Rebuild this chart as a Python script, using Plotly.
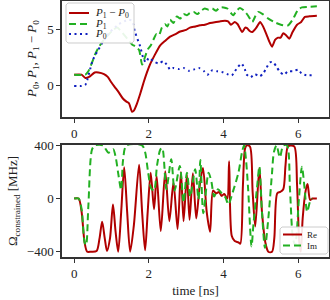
import plotly.graph_objects as go

# ---------------- top panel data ----------------
t_diff = [0, 0.2, 0.3, 0.4, 0.55, 0.65, 0.8, 0.9, 1.0, 1.1, 1.2, 1.3, 1.4, 1.47, 1.55, 1.6, 1.68,
          1.77, 1.86, 1.95, 2.03, 2.15, 2.3, 2.43, 2.57, 2.7, 2.84, 3.0, 3.1, 3.25, 3.37, 3.5, 3.64,
          3.8, 3.9, 4.04, 4.12, 4.2, 4.3, 4.38, 4.5, 4.58, 4.63, 4.7, 4.77, 4.88, 4.98, 5.06, 5.15,
          5.22, 5.3, 5.38, 5.46, 5.53, 5.6, 5.68, 5.76, 5.85, 5.97, 6.08, 6.18, 6.3, 6.5]
p_diff = [1.0, 1.0, 0.7, 0.8, 1.2, 1.2, 1.05, 0.8, 0.3, -0.15, -0.6, -1.1, -1.4, -1.55, -2.3, -2.2, -1.6,
          -0.7, 0.3, 1.2, 1.9, 2.7, 3.6, 4.0, 4.4, 4.6, 4.85, 5.0, 5.2, 5.3, 5.4, 5.45, 5.6,
          5.7, 5.75, 5.8, 5.75, 5.45, 5.7, 5.5, 4.8, 5.2, 5.15, 4.9, 4.8, 5.2, 5.7, 5.3, 4.6,
          4.0, 3.5, 4.1, 4.3, 4.3, 4.7, 4.5, 4.2, 4.8, 5.45, 5.7, 6.15, 6.2, 6.25]

t_p1 = [0, 0.3, 0.38, 0.47, 0.56, 0.65, 0.75, 0.9, 1.05, 1.15, 1.25, 1.35, 1.45, 1.55, 1.65, 1.74,
        1.82, 1.9, 1.98, 2.05, 2.12, 2.2, 2.27, 2.35, 2.43, 2.5, 2.57, 2.66, 2.75, 2.84, 2.93, 3.02,
        3.1, 3.2, 3.3, 3.4, 3.5, 3.6, 3.7, 3.8, 3.9, 4.0, 4.1, 4.2, 4.26, 4.35, 4.44, 4.55, 4.65,
        4.77, 4.85, 4.93, 5.05, 5.2, 5.35, 5.5, 5.6, 5.73, 5.85, 6.0, 6.1, 6.25, 6.5]
p1 = [1.0, 1.0, 1.3, 2.0, 2.8, 3.4, 3.9, 4.5, 5.0, 5.2, 4.9, 4.5, 4.1, 3.7, 3.5, 3.2,
      1.9, 2.6, 3.3, 3.6, 4.1, 4.6, 4.5, 5.2, 5.5, 5.3, 5.9, 5.6, 6.2, 6.0, 6.4, 6.3,
      6.5, 6.6, 6.4, 6.7, 6.9, 6.8, 6.9, 6.7, 7.0, 7.0, 6.9, 6.5, 6.3, 6.7, 6.95, 6.7, 6.3,
      5.7, 6.2, 6.6, 6.4, 6.0, 5.7, 5.5, 5.4, 5.4, 5.9, 6.8, 7.0, 7.05, 7.1]

t_p0 = [0, 0.2, 0.3, 0.5, 0.75, 0.96, 1.2, 1.45, 1.55, 1.63, 1.77, 1.85, 1.92, 2.0, 2.12, 2.26,
        2.39, 2.48, 2.57, 2.66, 2.8, 2.93, 3.07, 3.2, 3.34, 3.48, 3.57, 3.7, 3.84, 3.95, 4.09,
        4.22, 4.3, 4.39, 4.48, 4.57, 4.61, 4.72, 4.84, 4.97, 5.06, 5.15, 5.24, 5.33, 5.42, 5.5,
        5.61, 5.73, 5.86, 6.0, 6.09, 6.22, 6.38]
p0 = [0, 0, 0.1, 2.3, 3.8, 4.8, 5.5, 5.9, 5.8, 4.8, 3.5, 2.5, 2.1, 2.5, 2.2, 2.0,
      2.2, 1.9, 1.45, 1.6, 1.5, 1.6, 1.35, 1.45, 1.6, 1.3, 1.0, 1.4, 1.3, 1.25, 1.07,
      0.93, 1.28, 1.7, 2.0, 1.5, 1.05, 0.77, 1.05, 0.85, 1.1, 1.6, 2.1, 2.1, 1.7, 1.3,
      1.0, 1.3, 1.3, 1.45, 1.1, 0.95, 0.95]

# ---------------- bottom panel data ----------------
t_re = [0, 0.12, 0.2, 0.28, 0.35, 0.45, 0.6, 0.68, 0.75, 0.82, 0.88, 0.96, 1.04, 1.11, 1.18, 1.26,
        1.34, 1.42, 1.5, 1.6, 1.74, 1.82, 1.9, 1.97, 2.05, 2.14, 2.21, 2.32, 2.44, 2.55, 2.66,
        2.77, 2.86, 2.93, 3.02, 3.09, 3.18, 3.27, 3.36, 3.45, 3.55, 3.64, 3.72, 3.8, 3.88, 3.95,
        4.02, 4.1, 4.15, 4.22, 4.3, 4.4, 4.45, 4.52, 4.58, 4.63, 4.71, 4.78, 4.85, 4.96, 5.03,
        5.12, 5.2, 5.3, 5.36, 5.44, 5.52, 5.6, 5.66, 5.72, 5.8, 5.9, 5.97, 6.03, 6.07, 6.12,
        6.2, 6.25, 6.32, 6.38, 6.5]
re = [0, 0, -100, -330, -400, -400, -395, -300, -175, -300, -395, -300, -45, -250, -400, -100,
      235, -100, -400, -200, 255, -100, -390, -100, 195, -80, 170, -245, 205, -170, 120,
      -230, 200, -170, 180, -160, 190, -150, 90, 230, -100, -250, 60, 40, 50, 20,
      35, 0, 280, -280, -320, -330, -340, 100, 380, 400, 390, 50, -210, 230, -100,
      -330, -400, -400, -300, 40, 50, 70, 250, 390, 400, 390, 100, -330, -400, -150,
      60, 110, -10, 0, 0]

t_im = [0, 0.12, 0.2, 0.28, 0.32, 0.38, 0.48, 0.56, 0.78, 0.85, 0.92, 1.0, 1.05, 1.12, 1.18, 1.26,
        1.31, 1.4, 1.82, 1.9, 1.98, 2.06, 2.14, 2.22, 2.31, 2.36, 2.47, 2.6, 2.69, 2.83, 2.93,
        3.02, 3.11, 3.24, 3.33, 3.38, 3.46, 3.6, 3.68, 3.75, 3.85, 3.95, 4.05, 4.13, 4.25, 4.4,
        4.5, 4.55, 4.6, 4.66, 4.75, 4.8, 4.9, 4.96, 5.03, 5.11, 5.2, 5.3, 5.35, 5.42, 5.51, 5.6,
        5.7, 5.78, 5.86, 5.92, 6.02, 6.1, 6.17, 6.24, 6.32, 6.37]
im = [0, 0, -80, -330, -350, -60, 370, 400, 400, 370, 345, 360, 370, 300, 190, 65,
      290, 400, 400, 350, 200, 80, 60, 250, 370, 380, 70, 295, 60, 245, -30,
      195, 15, 220, -5, 290, -110, 195, 120, 15, 70, 40, 10, -45, 50, 195,
      355, 400, 300, 70, -360, -200, 90, 240, -100, -370, -150, 195, 350, 400, 310, 400,
      400, 70, -300, -350, 0, 240, 80, -100, -20, 0]

top_names = ["<i>P</i><sub>1</sub> − <i>P</i><sub>0</sub>", "<i>P</i><sub>1</sub>", "<i>P</i><sub>0</sub>"]
bottom_names = ["Re", "Im"]
top_ylabel = "<i>P</i><sub>0</sub>, <i>P</i><sub>1</sub>, <i>P</i><sub>1</sub> − <i>P</i><sub>0</sub>"

RED = "#b00000"
GREEN = "#22b022"
BLUE = "#1020c0"
DASH = "7px,4px"
DOT = "2px,3.5px"
FONT = "Liberation Serif, DejaVu Serif, serif"

XR = [-0.325, 6.825]
YR1 = [-2.77, 7.57]
YR2 = [-440, 403]

fig = go.Figure()
fig.add_trace(go.Scatter(x=t_diff, y=p_diff, mode="lines", name=top_names[0],
                         line=dict(color=RED, width=2, shape="spline", smoothing=0.6),
                         xaxis="x", yaxis="y"))
fig.add_trace(go.Scatter(x=t_p1, y=p1, mode="lines", name=top_names[1],
                         line=dict(color=GREEN, width=2, dash=DASH, shape="spline", smoothing=0.6),
                         xaxis="x", yaxis="y"))
fig.add_trace(go.Scatter(x=t_p0, y=p0, mode="lines", name=top_names[2],
                         line=dict(color=BLUE, width=2, dash=DOT, shape="spline", smoothing=0.6),
                         xaxis="x", yaxis="y"))
fig.add_trace(go.Scatter(x=t_re, y=re, mode="lines", name=bottom_names[0],
                         line=dict(color=RED, width=2, shape="spline", smoothing=0.8),
                         xaxis="x2", yaxis="y2"))
fig.add_trace(go.Scatter(x=t_im, y=im, mode="lines", name=bottom_names[1],
                         line=dict(color=GREEN, width=2, dash=DASH, shape="spline", smoothing=0.8),
                         xaxis="x2", yaxis="y2"))

# ---- compact matplotlib-style legends, drawn on top of the data ----
L, R, T, B = 62, 329, 1, 257
PANELS = {"y": (1, 117, YR1), "y2": (145, 257, YR2)}


def dx(p):
    return XR[0] + (p - L) / (R - L) * (XR[1] - XR[0])


def dy(p, ax):
    top, bot, yr = PANELS[ax]
    return yr[1] - (p - top) / (bot - top) * (yr[1] - yr[0])


annotations = []


def legend_box(ax, xa, x0, y0, x1, y1, rows, names, styles, fsize, text_x, line_x0, line_x1):
    r = 2.0
    bx = [x0 + r, x1 - r, x1, x1, x1 - r, x0 + r, x0, x0, x0 + r]
    by = [y0, y0, y0 + r, y1 - r, y1, y1, y1 - r, y0 + r, y0]
    fig.add_trace(go.Scatter(x=[dx(v) for v in bx], y=[dy(v, ax) for v in by],
                             mode="lines", fill="toself", fillcolor="rgba(255,255,255,0.9)",
                             line=dict(color="#cccccc", width=1), hoverinfo="skip",
                             showlegend=False, xaxis=xa, yaxis=ax))
    for ry, name, (col, dash) in zip(rows, names, styles):
        fig.add_trace(go.Scatter(x=[dx(line_x0), dx(line_x1)], y=[dy(ry, ax), dy(ry, ax)],
                                 mode="lines", line=dict(color=col, width=2, dash=dash),
                                 hoverinfo="skip", showlegend=False, xaxis=xa, yaxis=ax))
        annotations.append(dict(xref=xa, yref=ax, x=dx(text_x), y=dy(ry, ax),
                                xanchor="left", yanchor="middle", showarrow=False,
                                text=name, font=dict(family=FONT, size=fsize, color="#222")))


legend_box("y", "x", 66, 3, 134, 43, [13, 24, 34], top_names,
           [(RED, "solid"), (GREEN, DASH), (BLUE, DOT)], 11, 93, 69, 89)
legend_box("y2", "x2", 280, 227, 328, 254, [234.5, 245.5], bottom_names,
           [(RED, "solid"), (GREEN, DASH)], 9, 305, 283, 302)

# top-panel y label, placed like the reference (close to its tick labels)
annotations.append(dict(xref="paper", yref="paper", x=(32 - L) / (R - L), y=(B - 59) / (B - T),
                        xanchor="center", yanchor="middle", showarrow=False, textangle=-90,
                        text=top_ylabel, font=dict(family=FONT, size=13, color="#222")))

axis_common = dict(showline=True, mirror=True, linecolor="#333333", linewidth=1.5,
                   ticks="outside", ticklen=4, tickwidth=1, tickcolor="#333333",
                   showgrid=False, zeroline=False, automargin=False,
                   tickfont=dict(family=FONT, size=13, color="#222"))

fig.update_layout(
    width=330, height=300,
    margin=dict(l=62, r=1, t=1, b=43, autoexpand=False),
    paper_bgcolor="white", plot_bgcolor="white",
    font=dict(family=FONT, size=13, color="#222"),
    showlegend=False,
    xaxis=dict(domain=[0, 1], range=XR, anchor="y",
               tickvals=[0, 2, 4, 6], **axis_common),
    yaxis=dict(domain=[0.547, 1], range=YR1, anchor="x",
               tickvals=[0, 5], **axis_common),
    xaxis2=dict(domain=[0, 1], range=XR, anchor="y2",
                tickvals=[0, 2, 4, 6],
                title=dict(text="time [ns]", font=dict(family=FONT, size=13), standoff=6),
                **axis_common),
    yaxis2=dict(domain=[0, 0.4375], range=YR2, anchor="x2",
                tickvals=[-400, 0, 400], ticktext=["−400", "0", "400"],
                title=dict(text="Ω<sub>constrained</sub> [MHz]", font=dict(family=FONT, size=13), standoff=6),
                **axis_common),
    annotations=annotations,
)

fig.write_html("out.html", config={"displayModeBar": False},
               post_script="document.body.style.margin='0';document.body.style.padding='0';")
